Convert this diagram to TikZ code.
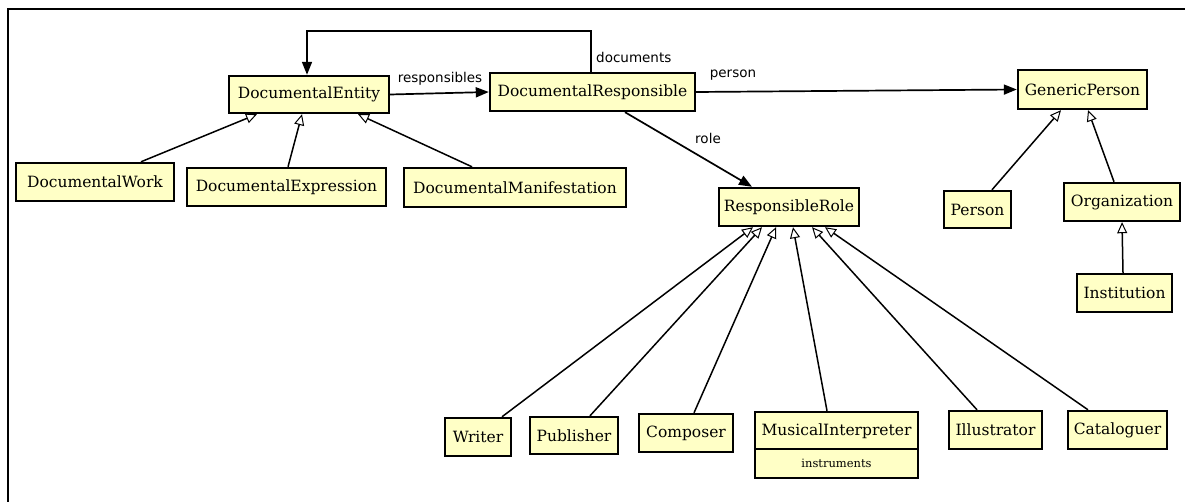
\documentclass[tikz,border=0pt]{standalone}
\usepackage{fontspec}
\setmainfont{DejaVu Serif}
\newfontfamily\lblfont{DejaVu Sans}
\usetikzlibrary{arrows.meta}
\definecolor{clsfill}{HTML}{FFFFC6}
\tikzset{
  clsfont/.style={font=\fontsize{15.5}{17}\selectfont},
  cls/.style={draw=black, line width=2.4pt, fill=clsfill, inner sep=0pt, clsfont},
  gen/.style={line width=1.5pt, -{Triangle[open, length=11pt, width=10pt, fill=white, line width=1pt]}},
  assoc/.style={line width=1.7pt, -{Triangle[length=13pt, width=10pt]}},
  lbl/.style={font=\lblfont\fontsize{13.5}{15}\selectfont, inner sep=0pt},
}
\newcommand{\clsnode}[6]{% name, x1, x2, y1, y2, text
  \node[cls, minimum width={(#3-#2)*1pt}, minimum height={(#5-#4)*1pt}] (#1) at ({(#2+#3)/2},{(#4+#5)/2}) {#6};}
\begin{document}
\begin{tikzpicture}[x=1pt, y=-1pt]
\useasboundingbox (0,0) rectangle (1185,502);
\fill[white] (0,0) rectangle (1185,502);
% frame
\coordinate (fr1) at (1186,9);
\coordinate (fr0) at (8,9);
\coordinate (fr2) at (8,503);
\draw[line width=2.4pt] (fr1) -- (fr0) -- (fr2);

% classes
\clsnode{DE}{229}{389}{76}{113}{DocumentalEntity}
\clsnode{DW}{16}{174}{163}{201}{DocumentalWork}
\clsnode{DEx}{187}{386}{168}{206}{DocumentalExpression}
\clsnode{DM}{404}{626}{168}{207}{DocumentalManifestation}
\clsnode{DR}{490}{695}{73}{111}{DocumentalResponsible}
\clsnode{GP}{1018}{1147}{70}{109}{GenericPerson}
\clsnode{RR}{719}{859}{188}{226}{ResponsibleRole}
\clsnode{Pe}{944}{1011}{191}{228}{Person}
\clsnode{Org}{1064}{1180}{183}{221}{Organization}
\clsnode{Inst}{1077}{1172}{274}{312}{Institution}
\clsnode{Wr}{445}{511}{418}{456}{Writer}
\clsnode{Pub}{530}{618}{417}{454}{Publisher}
\clsnode{Comp}{639}{733}{414}{452}{Composer}
\clsnode{Ill}{949}{1042}{411}{449}{Illustrator}
\clsnode{Cat}{1068}{1167}{411}{449}{Cataloguer}
% MusicalInterpreter with attribute compartment
\node[cls, minimum width=163pt, minimum height=66pt] (MI) at (836.5,445) {};
\node[inner sep=0pt, clsfont] (MIname) at (836.5,431) {MusicalInterpreter};
\node[inner sep=0pt, font=\fontsize{11.5}{13}\selectfont] (MIattr) at (836.5,463.5) {instruments};
\draw[line width=2.2pt] (MI.west |- 0,449) -- (MI.east |- 0,449);

% generalizations
\draw[gen] ([xshift=46pt]DW.north) -- ([xshift=-52pt]DE.south);
\draw[gen] ([xshift=1.5pt]DEx.north) -- ([xshift=-7pt]DE.south);
\draw[gen] ([xshift=-43pt]DM.north) -- ([xshift=49pt]DE.south);
\draw[gen] ([xshift=14.5pt]Pe.north) -- ([xshift=-21.5pt]GP.south);
\draw[gen] ([xshift=-8pt]Org.north) -- ([xshift=5.5pt]GP.south);
\draw[gen] ([xshift=-1.5pt]Inst.north) -- (Org.south);
\draw[gen] ([xshift=24pt]Wr.north) -- ([xshift=-36pt]RR.south);
\draw[gen] ([xshift=16pt]Pub.north) -- ([xshift=-27pt]RR.south);
\draw[gen] ([xshift=8pt]Comp.north) -- ([xshift=-13pt]RR.south);
\draw[gen] ([xshift=-9.5pt]MI.north) -- ([xshift=4pt]RR.south);
\draw[gen] ([xshift=-18.5pt]Ill.north) -- ([xshift=23pt]RR.south);
\draw[gen] ([xshift=-29.5pt]Cat.north) -- ([xshift=36pt]RR.south);

% associations
\draw[assoc] ([xshift=-1.5pt]DR.north) -- ++(0,-41) -| ([xshift=-2pt]DE.north);
\draw[assoc] (DE.east) -- (DR.west);
\draw[assoc] (DR.east) -- (GP.west);
\draw[assoc] ([xshift=32.5pt]DR.south) -- ([xshift=-37pt]RR.north);

% labels
\node[lbl, anchor=west] (Ldoc) at (596,57) {documents};
\node[lbl] (Lresp) at (440,79) {responsibles};
\node[lbl] (Lpers) at (733,75) {person};
\node[lbl] (Lrole) at (708,138) {role};
\end{tikzpicture}
\end{document}
